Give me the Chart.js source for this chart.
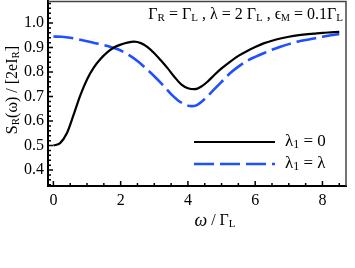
<!DOCTYPE html>
<html><head><meta charset="utf-8">
<script src="https://cdn.jsdelivr.net/npm/chart.js@4/dist/chart.umd.min.js"></script>
<style>html,body{margin:0;padding:0;background:#fff}#wrap{width:355px;height:268px}</style>
</head><body><div id="wrap"><canvas id="c" width="355" height="268"></canvas></div>
<script>
const omegaBlack = [0,0.2,0.4,0.6,0.8,1.0,1.2,1.4,1.6,1.8,2.0,2.2,2.4,2.6,2.8,3.0,3.2,3.4,3.6,3.8,4.0,4.2,4.4,4.6,4.8,5.0,5.25,5.5,5.75,6.0,6.25,6.5,6.75,7.0,7.25,7.5,7.75,8.0,8.25,8.5];
const sBlack = [0.5,0.51,0.55,0.625,0.705,0.77,0.818,0.853,0.88,0.9,0.912,0.92,0.924,0.918,0.902,0.877,0.847,0.815,0.78,0.75,0.734,0.73,0.741,0.763,0.79,0.815,0.842,0.866,0.885,0.902,0.917,0.928,0.937,0.944,0.95,0.954,0.957,0.96,0.962,0.964];
const omegaBlue = [0,0.25,0.5,0.75,1.0,1.25,1.5,1.75,2.0,2.25,2.5,2.75,3.0,3.25,3.5,3.75,4.0,4.1,4.25,4.5,4.75,5.0,5.25,5.5,5.75,6.0,6.25,6.5,6.75,7.0,7.25,7.5,7.75,8.0,8.25,8.5];
const sBlue = [0.945,0.944,0.94,0.933,0.926,0.918,0.91,0.9,0.888,0.869,0.845,0.815,0.783,0.748,0.71,0.68,0.663,0.661,0.664,0.69,0.725,0.76,0.795,0.822,0.845,0.862,0.877,0.891,0.903,0.914,0.924,0.931,0.937,0.944,0.95,0.955];
const xMajorTicks = [0,2,4,6,8];
const xMinorTicks = [0.5,1,1.5,2.5,3,3.5,4.5,5,5.5,6.5,7,7.5,8.5];
const yMajorTicks = [0.4,0.5,0.6,0.7,0.8,0.9,1.0];
const yMinorStep = 0.02;
const seriesNames = ['λ1 = 0','λ1 = λ'];

const BLUE = '#1f4fff';
const SERIF = '"Liberation Serif","DejaVu Serif",serif';

function rich(ctx, parts, x, y, align) {
  let w = 0;
  parts.forEach(p => { ctx.font = (p.it ? 'italic ' : '') + p.s + 'px ' + SERIF; w += ctx.measureText(p.t).width; });
  let cx = align === 'center' ? x - w/2 : (align === 'right' ? x - w : x);
  parts.forEach(p => {
    ctx.font = (p.it ? 'italic ' : '') + p.s + 'px ' + SERIF;
    ctx.fillText(p.t, cx, y + (p.dy || 0));
    cx += ctx.measureText(p.t).width;
  });
}

const deco = {
  id: 'deco',
  afterDraw(chart) {
    const ctx = chart.ctx, a = chart.chartArea, xs = chart.scales.x, ys = chart.scales.y;
    ctx.save();
    ctx.strokeStyle = '#444'; ctx.lineWidth = 1.5;
    ctx.beginPath(); ctx.moveTo(a.left, a.top + 0.5); ctx.lineTo(a.right, a.top + 0.5); ctx.lineTo(a.right, a.bottom); ctx.stroke();
    ctx.strokeStyle = '#000'; ctx.lineWidth = 1.5;
    ctx.beginPath();
    xMajorTicks.forEach(v => { const p = xs.getPixelForValue(v); ctx.moveTo(p, a.bottom); ctx.lineTo(p, a.bottom - 5); });
    xMinorTicks.forEach(v => { const p = xs.getPixelForValue(v); ctx.moveTo(p, a.bottom); ctx.lineTo(p, a.bottom - 3); });
    yMajorTicks.forEach(v => { const p = ys.getPixelForValue(v); ctx.moveTo(a.left, p); ctx.lineTo(a.left + 5, p); });
    for (let v = 0.34; v <= 1.081; v += yMinorStep) {
      const p = ys.getPixelForValue(v); ctx.moveTo(a.left, p); ctx.lineTo(a.left + 3, p);
    }
    ctx.stroke();
    ctx.fillStyle = '#000'; ctx.textBaseline = 'alphabetic';
    rich(ctx, [
      {t:'Γ', s:16},{t:'R', s:11, dy:2},{t:' = Γ', s:16},{t:'L', s:11, dy:2},
      {t:' , λ = 2 Γ', s:16},{t:'L', s:11, dy:2},{t:' , ϵ', s:16},{t:'M', s:10, dy:2},{t:' = 0.1Γ', s:16},{t:'L', s:11, dy:2}
    ], 343, 19, 'right');
    const ds = chart.data.datasets;
    const ly = [142, 164];
    ds.forEach((d, i) => {
      ctx.strokeStyle = d.borderColor; ctx.lineWidth = d.borderWidth;
      ctx.setLineDash(d.borderDash || []);
      ctx.beginPath(); ctx.moveTo(194, ly[i]); ctx.lineTo(275, ly[i]); ctx.stroke();
    });
    ctx.setLineDash([]);
    ctx.fillStyle = '#000'; ctx.textBaseline = 'middle';
    rich(ctx, [{t:'λ', s:17},{t:'1', s:12, dy:3},{t:' = 0', s:17}], 285, ly[0], 'left');
    rich(ctx, [{t:'λ', s:17},{t:'1', s:12, dy:3},{t:' = λ', s:17}], 285, ly[1], 'left');
    rich(ctx, [{t:'ω', s:18, it:true},{t:' / Γ', s:16},{t:'L', s:11, dy:3}], 215, 221, 'center');
    ctx.translate(13, 90); ctx.rotate(-Math.PI/2);
    rich(ctx, [{t:'S', s:16},{t:'R', s:11, dy:3},{t:'(ω) / [2eI', s:16},{t:'R', s:11, dy:3},{t:']', s:16}], 0, 0, 'center');
    ctx.restore();
  }
};

new Chart(document.getElementById('c'), {
  type: 'line',
  data: {
    datasets: [
      { label: seriesNames[0], data: omegaBlack.map((x, i) => ({x, y: sBlack[i]})), borderColor: '#000', borderWidth: 2.2, pointRadius: 0, cubicInterpolationMode: 'monotone', fill: false },
      { label: seriesNames[1], data: omegaBlue.map((x, i) => ({x, y: sBlue[i]})), borderColor: BLUE, borderWidth: 2.6, borderDash: [20, 6], pointRadius: 0, cubicInterpolationMode: 'monotone', fill: false }
    ]
  },
  options: {
    responsive: false, animation: false,
    layout: { padding: { left: 0, right: 9, top: 1, bottom: 0 } },
    plugins: { legend: { display: false }, tooltip: { enabled: false } },
    scales: {
      x: {
        type: 'linear', min: -0.16, max: 8.7,
        afterFit: s => { s.height = 82; s.paddingLeft = 0; s.paddingRight = 0; },
        afterBuildTicks: s => { s.ticks = xMajorTicks.map(v => ({value: v})); },
        grid: { drawOnChartArea: false, drawTicks: false },
        border: { color: '#000', width: 2 },
        ticks: { padding: 5, color: '#000', font: { family: SERIF, size: 16 }, callback: v => String(v) }
      },
      y: {
        type: 'linear', min: 0.335, max: 1.09,
        afterFit: s => { s.width = 48; s.paddingTop = 0; s.paddingBottom = 0; },
        afterBuildTicks: s => { s.ticks = yMajorTicks.map(v => ({value: v})); },
        grid: { drawOnChartArea: false, drawTicks: false },
        border: { color: '#000', width: 2 },
        ticks: { padding: 4, color: '#000', font: { family: SERIF, size: 16 }, callback: v => v.toFixed(1) }
      }
    }
  },
  plugins: [deco]
});
</script></body></html>
